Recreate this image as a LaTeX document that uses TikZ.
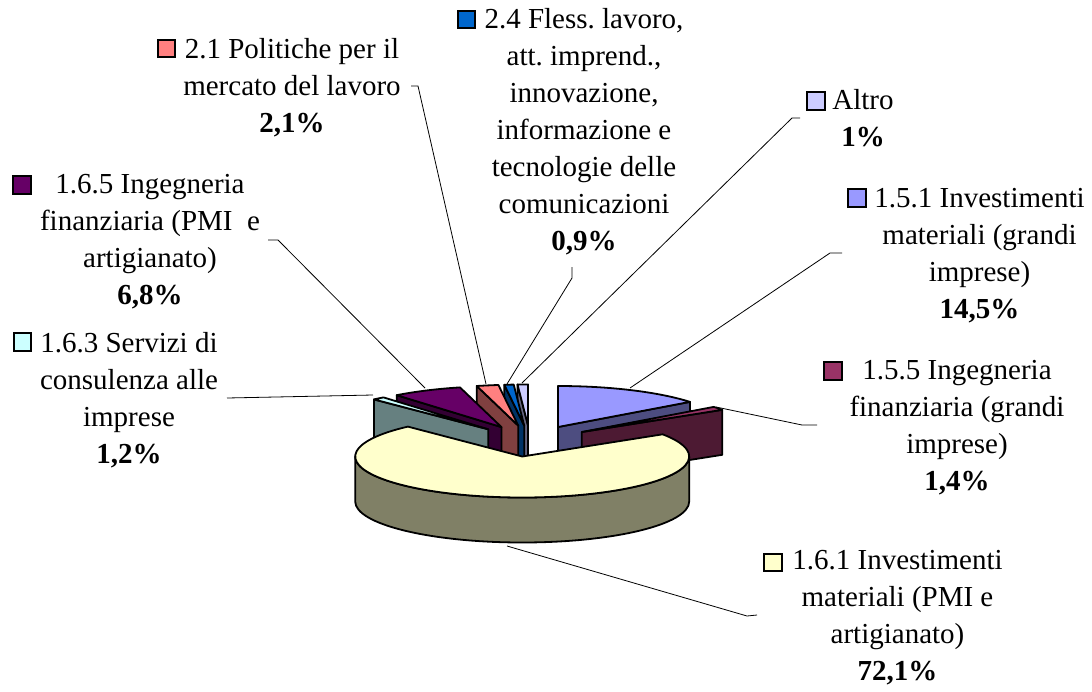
\documentclass[tikz,border=0pt]{standalone}
\usepackage{fontspec}
\setmainfont{Liberation Serif}
\frenchspacing
\definecolor{invgr}{HTML}{9999FF}
\definecolor{invgrs}{HTML}{4D4D80}
\definecolor{inggr}{HTML}{993366}
\definecolor{inggrs}{HTML}{4D1A33}
\definecolor{invpmi}{HTML}{FFFFCC}
\definecolor{invpmis}{HTML}{808066}
\definecolor{serv}{HTML}{CCFFFF}
\definecolor{servs}{HTML}{668080}
\definecolor{ingpmi}{HTML}{660066}
\definecolor{ingpmis}{HTML}{330033}
\definecolor{pol}{HTML}{FF8080}
\definecolor{pols}{HTML}{804040}
\definecolor{fless}{HTML}{0066CC}
\definecolor{flesss}{HTML}{003366}
\definecolor{altro}{HTML}{CCCCFF}
\definecolor{altros}{HTML}{666680}
\tikzset{
  face/.style={draw=black, line width=1.8pt, line join=round},
  lbl/.style={align=center, inner sep=0pt, anchor=north, font=\fontsize{29}{37}\selectfont},
  key/.style={draw=black, line width=1.6pt, minimum size=17.5pt, inner sep=0pt},
  leader/.style={draw=black, line width=0.8pt}
}
\begin{document}
\begin{tikzpicture}[x=1pt, y=1pt]
    \useasboundingbox (0,0) rectangle (1092,-691);
    % apex of every exploded slice
    \coordinate (oA) at (558,-427);
    \coordinate (oB) at (581.8,-432);
    \coordinate (oC) at (522.2,-456.5);
    \coordinate (oD) at (488.3,-429.3);
    \coordinate (oE) at (501.5,-427.1);
    \coordinate (oF) at (518.3,-425.7);
    \coordinate (oG) at (524.2,-425.5);
    \coordinate (oH) at (528,-425.4);
    % back slices, from 12 o'clock to the left
    \draw[face, fill=altros](oH)--++(93.6:167 and 41)--++(0,-45)--([yshift=-45pt]oH)--cycle;
    \draw[face, fill=altro](oH)--++(90:167 and 41) arc[start angle=90, end angle=93.6, x radius=167, y radius=41]--cycle;
    \draw[face, fill=flesss](oG)--++(96.84:167 and 41)--++(0,-45)--([yshift=-45pt]oG)--cycle;
    \draw[face, fill=fless](oG)--++(93.6:167 and 41) arc[start angle=93.6, end angle=96.84, x radius=167, y radius=41]--cycle;
    \draw[face, fill=pols](oF)--++(104.4:167 and 41)--++(0,-45)--([yshift=-45pt]oF)--cycle;
    \draw[face, fill=pol](oF)--++(96.84:167 and 41) arc[start angle=96.84, end angle=104.4, x radius=167, y radius=41]--cycle;
    \draw[face, fill=ingpmis](oE)--++(128.88:167 and 41)--++(0,-45)--([yshift=-45pt]oE)--cycle;
    \draw[face, fill=ingpmi](oE)--++(104.4:167 and 41) arc[start angle=104.4, end angle=128.88, x radius=167, y radius=41]--cycle;
    \draw[face, fill=servs](oD)--++(133.2:167 and 41)--++(0,-45)--([yshift=-45pt]oD)--cycle;
    \draw[face, fill=serv](oD)--++(128.88:167 and 41) arc[start angle=128.88, end angle=133.2, x radius=167, y radius=41]--cycle;
    % right slices
    \draw[face, fill=invgrs](oA)--++(37.8:167 and 41)--++(0,-45)--([yshift=-45pt]oA)--cycle;
    \draw[face, fill=invgr](oA)--++(37.8:167 and 41) arc[start angle=37.8, end angle=90, x radius=167, y radius=41]--cycle;
    \draw[face, fill=inggrs](oB)--++(32.76:167 and 41)--++(0,-45)--([yshift=-45pt]oB)--cycle;
    \draw[face, fill=inggr](oB)--++(32.76:167 and 41) arc[start angle=32.76, end angle=37.8, x radius=167, y radius=41]--cycle;
    % big front slice
    \draw[face, fill=invpmis]([xshift=-167pt]oC) arc[start angle=180, end angle=360, x radius=167, y radius=41]--++(0,-45) arc[start angle=360, end angle=180, x radius=167, y radius=41]--cycle;
    \draw[face, fill=invpmi](oC)--++(32.76:167 and 41) arc[start angle=32.76, end angle=-226.8, x radius=167, y radius=41]--cycle;

    % labels
    \node[lbl] (l21) at (292,-38) {2.1 Politiche per il\\mercato del lavoro\\\textbf{2,1\%}};
    \node[key, fill=pol] (k21) at (166.5,-48.5) {};
    \node[lbl] (l165) at (150,-174) {1.6.5 Ingegneria\\finanziaria (PMI~~e\\artigianato)\\\textbf{6,8\%}};
    \node[key, fill=ingpmi] (k165) at (22,-185) {};
    \node[lbl] (l24) at (584,-8.3) {2.4 Fless. lavoro,\\att. imprend.,\\innovazione,\\informazione e\\tecnologie delle\\comunicazioni\\\textbf{0,9\%}};
    \node[key, fill=fless] (k24) at (466.5,-19.5) {};
    \node[lbl] (laltro) at (863,-89.3) {Altro\\\textbf{1\%}};
    \node[key, fill=altro] (kaltro) at (816,-101) {};
    \node[lbl] (l151) at (979.5,-188.3) {1.5.1 Investimenti\\materiali (grandi\\imprese)\\\textbf{14,5\%}};
    \node[key, fill=invgr] (k151) at (857,-198) {};
    \node[lbl] (l155) at (957,-360) {1.5.5 Ingegneria\\finanziaria (grandi\\imprese)\\\textbf{1,4\%}};
    \node[key, fill=inggr] (k155) at (833,-371) {};
    \node[lbl] (l163) at (129,-331.7) {1.6.3 Servizi di\\consulenza alle\\imprese\\\textbf{1,2\%}};
    \node[key, fill=serv] (k163) at (22.5,-342) {};
    \node[lbl] (l161) at (897.5,-550) {1.6.1 Investimenti\\materiali (PMI e\\artigianato)\\\textbf{72,1\%}};
    \node[key, fill=invpmi] (k161) at (773,-562.5) {};

    % leader lines
    \coordinate (s21) at (411,-86);    \coordinate (e21) at (486,-384);
    \coordinate (s165) at (268,-240);  \coordinate (e165) at (425,-388);
    \coordinate (s24) at (572,-267);   \coordinate (e24) at (507,-384);
    \coordinate (saltro) at (800,-118); \coordinate (ealtro) at (522,-383);
    \coordinate (s151) at (842,-253);  \coordinate (e151) at (630,-388);
    \coordinate (s155) at (817,-425);  \coordinate (e155) at (716,-407);
    \coordinate (s163) at (227,-398);  \coordinate (e163) at (373,-395);
    \coordinate (s161) at (757,-615);  \coordinate (e161) at (507,-546);
    \draw[leader](s21)--++(7,0)--(e21);
    \draw[leader](s165)--++(10,0)--(e165);
    \draw[leader](s24)--++(0,-11)--(e24);
    \draw[leader](saltro)--++(-8,0)--(ealtro);
    \draw[leader](s151)--++(-12,0)--(e151);
    \draw[leader](s155)--++(-15,0)--(e155);
    \draw[leader](s163)--(e163);
    \draw[leader](s161)--++(-10,-1)--(e161);
\end{tikzpicture}
\end{document}
